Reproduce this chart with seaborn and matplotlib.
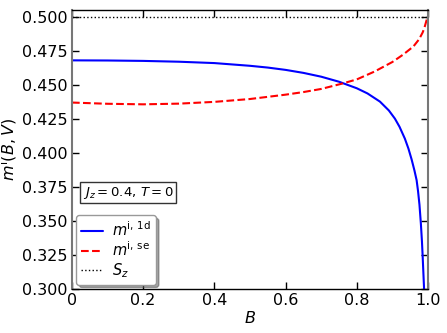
import pandas as pd
import matplotlib
matplotlib.use('Agg')
import matplotlib.pyplot as plt
import seaborn as sns

# Values
b_1d = [0.0, 0.1, 0.2, 0.3, 0.4, 0.5, 0.55, 0.6, 0.65, 0.7, 0.75, 0.8, 0.83,
        0.865, 0.89, 0.907, 0.92, 0.935, 0.945, 0.954, 0.962, 0.968, 0.972,
        0.976, 0.980, 0.983, 0.985, 0.987, 0.989]
m_1d = [0.4680, 0.4679, 0.4676, 0.4670, 0.4660, 0.4640, 0.4627, 0.4610, 0.4588,
        0.4560, 0.4523, 0.4475, 0.4437, 0.4377, 0.4312, 0.4252, 0.4192, 0.4105,
        0.4032, 0.3952, 0.3870, 0.3800, 0.3720, 0.3620, 0.3480, 0.3350, 0.3240,
        0.3120, 0.3000]

b_se = [0.0, 0.1, 0.2, 0.3, 0.4, 0.5, 0.6, 0.65, 0.7, 0.757, 0.8, 0.85, 0.9,
        0.93, 0.959, 0.975, 0.985, 0.99, 0.996, 1.0]
m_se = [0.4370, 0.4361, 0.4357, 0.4362, 0.4375, 0.4396, 0.4428, 0.4447, 0.4470,
        0.4508, 0.4540, 0.4598, 0.4668, 0.4722, 0.4782, 0.4835, 0.4885, 0.4920,
        0.4975, 0.5000]

b_sz = [0.0, 1.0]
m_sz = [0.5, 0.5]

sns.set_theme(style='ticks', rc={
    'text.color': 'black', 'axes.labelcolor': 'black',
    'xtick.color': 'black', 'ytick.color': 'black',
    'mathtext.fontset': 'dejavusans',
})
plt.rcParams['font.family'] = ['DejaVu Sans']

df_1d = pd.DataFrame({'B': b_1d, 'm': m_1d})
df_se = pd.DataFrame({'B': b_se, 'm': m_se})
df_sz = pd.DataFrame({'B': b_sz, 'm': m_sz})

fig = plt.figure(figsize=(4.47, 3.33), dpi=100)
ax = fig.add_axes([0.161, 0.132, 0.7965, 0.838])

sns.lineplot(data=df_1d, x='B', y='m', ax=ax, color='blue', lw=1.5,
             label=r'$m^{\rm i,\,1d}$')
sns.lineplot(data=df_se, x='B', y='m', ax=ax, color='red', lw=1.5,
             linestyle='--', label=r'$m^{\rm i,\,se}$')
sns.lineplot(data=df_sz, x='B', y='m', ax=ax, color='black', lw=1.0,
             linestyle=':', label=r'$S_z$')

ax.set_xlim(0, 1)
ax.set_ylim(0.3, 0.505)
ax.set_xticks([0, 0.2, 0.4, 0.6, 0.8, 1.0])
ax.set_xticklabels(['0', '0.2', '0.4', '0.6', '0.8', '1.0'])
ax.set_yticks([0.3 + 0.025 * i for i in range(9)])
ax.set_yticklabels(['%.3f' % (0.3 + 0.025 * i) for i in range(9)])
ax.xaxis.set_ticks_position('both')
ax.yaxis.set_ticks_position('both')
ax.tick_params(axis='both', which='major', direction='in', length=5, width=1.0,
               color='black', labelsize=11.5, pad=3)
ax.set_xlabel(r'$B$', fontsize=11.5, labelpad=1)
ax.set_ylabel(r'$m^{\rm i}(B,V)$', fontsize=11.5, labelpad=2)

for side in ['top', 'bottom']:
    ax.spines[side].set_color('black')
    ax.spines[side].set_linewidth(1.0)
for side in ['left', 'right']:
    ax.spines[side].set_color('#777777')
    ax.spines[side].set_linewidth(1.5)

ax.text(0.03, 0.317, r'$J_z=0.4$, $T=0$', transform=ax.transAxes, fontsize=9.5,
        va='bottom', ha='left',
        bbox=dict(boxstyle='square,pad=0.22', fc='white', ec='#333333', lw=1))

leg = ax.legend(loc='lower left', fontsize=10.5, fancybox=True, shadow=True,
                frameon=True, handlelength=1.5, labelspacing=0.1,
                borderaxespad=0.3, borderpad=0.35, handletextpad=0.6)
leg.get_frame().set_edgecolor('#999999')

plt.savefig('out.png', dpi=100)
plt.close()
